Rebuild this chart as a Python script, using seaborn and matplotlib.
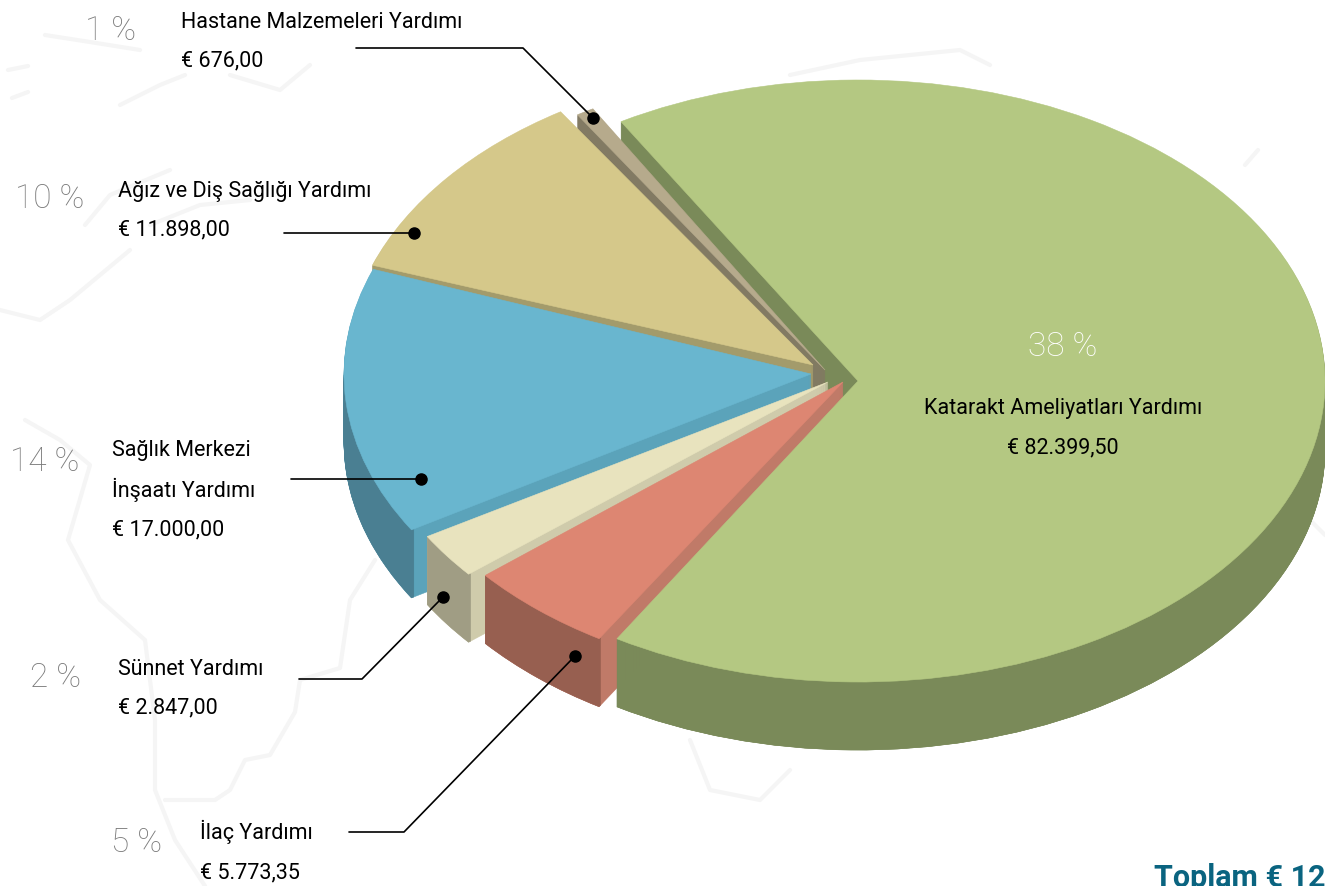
import matplotlib
matplotlib.use("Agg")
import matplotlib.pyplot as plt
import seaborn as sns

# slices, in the order they sit counterclockwise from the top of the pie
names = ["Hastane Malzemeleri Yardımı", "Ağız ve Diş Sağlığı Yardımı", "Sağlık Merkezi\nİnşaatı Yardımı",
         "Sünnet Yardımı", "İlaç Yardımı", "Katarakt Ameliyatları Yardımı"]
values = [676.00, 11898.00, 17000.00, 2847.00, 5773.35, 82399.50]
amounts = ["€ 676,00", "€ 11.898,00", "€ 17.000,00", "€ 2.847,00", "€ 5.773,35", "€ 82.399,50"]
percents = ["1 %", "10 %", "14 %", "2 %", "5 %", "38 %"]
total_label = "Toplam € 120.593,85"

top_colors = ["#B6AA8C", "#D5C88A", "#69B6CF", "#E8E3BE", "#DD8672", "#B4C882"]
cut_colors = ["#827A63", "#A39B6B", "#5BA3BA", "#CFCBAB", "#C07A68", "#7A8A59"]
rim_colors = ["#827A63", "#A39B6B", "#4A7F92", "#A09D84", "#975F50", "#7A8A59"]

# picture geometry, in pixels
W, H = 1325, 886
CX, CY, RX, RY = 858, 381, 467, 301
DEPTH = 68
slice_shift = [(-33, -11), (-45, -16), (-47, -7), (-30, 1), (-15, 1), (0, 0)]
# the original pie is in perspective, so angles differ a bit from the values
angle_fix = [(-0.2, 0.0), (0.7, 3.1), (2.1, 2.9), (2.6, 2.9), (3.2, 4.5), (4.9, 0.5)]

sns.set_theme(style="white")
label_font = ["Roboto", "DejaVu Sans"]


def dx(px):
    return (px - CX) / RX


def dy(py):
    return (CY - py) / RY


fig = plt.figure(figsize=(W / 100, H / 100), dpi=100)
ax = fig.add_axes([0, 0, 1, 1])


def pie_layer(colors, drop=0, rim=False, z=None):
    wedges, _ = ax.pie(values, colors=colors, startangle=120, wedgeprops=dict(linewidth=0.4))
    for i, w in enumerate(wedges):
        w.set_edgecolor(colors[i])
        w.set_theta1(w.theta1 + angle_fix[i][0])
        w.set_theta2(w.theta2 + angle_fix[i][1])
        w.set_center((slice_shift[i][0] / RX, -(slice_shift[i][1] + drop) / RY))
        if rim:
            # only the near half of the pie shows its outer wall
            t1, t2 = max(w.theta1, 180), min(w.theta2, 360)
            if t1 >= t2:
                w.set_visible(False)
            else:
                w.set_theta1(t1)
                w.set_theta2(t2)
                w.set_width(0.006)
        w.set_zorder(z[i])
    return wedges


# painter's order: green cut face first, then slices left to right,
# green rim and top last so they hide the red cut face
cut_z = [10, 20, 30, 40, 50, 1]
rim_z = [11, 21, 31, 41, 51, 60]
top_z = [12, 22, 32, 42, 52, 61]

for d in range(1, DEPTH + 1):
    pie_layer(cut_colors, drop=d, z=cut_z)
    pie_layer(rim_colors, drop=d, rim=True, z=rim_z)
pie_layer(top_colors, z=top_z)

# faint map in the background
coast = [
    [(25, 420), (60, 440), (90, 465), (68, 540), (100, 600), (145, 640), (155, 720), (155, 790), (175, 840), (205, 886)],
    [(375, 560), (350, 600), (340, 668), (300, 680), (295, 712), (270, 755), (245, 760), (230, 790), (215, 800), (165, 800)],
    [(45, 35), (90, 42), (140, 50)], [(120, 105), (160, 85), (185, 75)], [(230, 75), (280, 90), (310, 65)],
    [(8, 70), (28, 66)], [(12, 98), (28, 92)], [(85, 225), (110, 195), (170, 170)], [(150, 225), (200, 205), (250, 200)],
    [(0, 310), (40, 320), (70, 300), (130, 250)], [(690, 740), (710, 790), (760, 800), (790, 770)],
    [(790, 75), (860, 60), (960, 50), (990, 65)], [(1245, 165), (1258, 150)], [(1300, 510), (1325, 535)],
]
for line in coast:
    ax.plot([dx(p[0]) for p in line], [dy(p[1]) for p in line], color="#F5F5F5", lw=3,
            solid_capstyle="round", solid_joinstyle="round", zorder=0)

# leader lines, ending in a dot on the slice
leaders = [
    [(356, 48), (523, 48), (593, 118)],
    [(284, 233), (414, 233)],
    [(291, 479), (421, 479)],
    [(299, 679), (362, 679), (443, 597)],
    [(349, 832), (404, 832), (575, 656)],
]
for line in leaders:
    ax.plot([dx(p[0]) for p in line], [dy(p[1]) for p in line], color="black", lw=1.2, zorder=70)
    ax.plot(dx(line[-1][0]), dy(line[-1][1]), "o", color="black", ms=8, zorder=71)

# label text: name, amount, percent
name_pos = [(181, 28), (118, 197), (112, 497), (118, 675), (200, 839)]
amount_pos = [(181, 66), (118, 235), (112, 535), (118, 713), (200, 878)]
pct_pos = [(85, 40), (15, 208), (10, 471), (30, 687), (111, 852)]
for i in range(5):
    ax.text(dx(name_pos[i][0]), dy(name_pos[i][1]), names[i], family=label_font, fontsize=15.5, color="black",
            va="baseline", ha="left", linespacing=1.86, zorder=80)
    ax.text(dx(amount_pos[i][0]), dy(amount_pos[i][1]), amounts[i], family=label_font, fontsize=15.5, color="black",
            va="baseline", ha="left", zorder=80)
    ax.text(dx(pct_pos[i][0]), dy(pct_pos[i][1]), percents[i], family=label_font, fontsize=24, fontweight="light",
            color="#7A7A7A", va="baseline", ha="left", zorder=80)

ax.text(dx(1063), dy(356), percents[5], family=label_font, fontsize=24, fontweight="light", color="white",
        va="baseline", ha="center", zorder=80)
ax.text(dx(1063), dy(414), names[5], family=label_font, fontsize=15.5, color="black",
        va="baseline", ha="center", zorder=80)
ax.text(dx(1063), dy(453), amounts[5], family=label_font, fontsize=15.5, color="black",
        va="baseline", ha="center", zorder=80)

ax.text(dx(1154), dy(887), total_label, family=label_font, fontsize=22, fontweight="bold",
        color="#0A6480", va="baseline", ha="left", zorder=80, clip_on=True)

ax.set_aspect("auto")
ax.set_xlim(dx(0), dx(W))
ax.set_ylim(dy(H), dy(0))
ax.axis("off")
fig.savefig("out.png", dpi=100)
